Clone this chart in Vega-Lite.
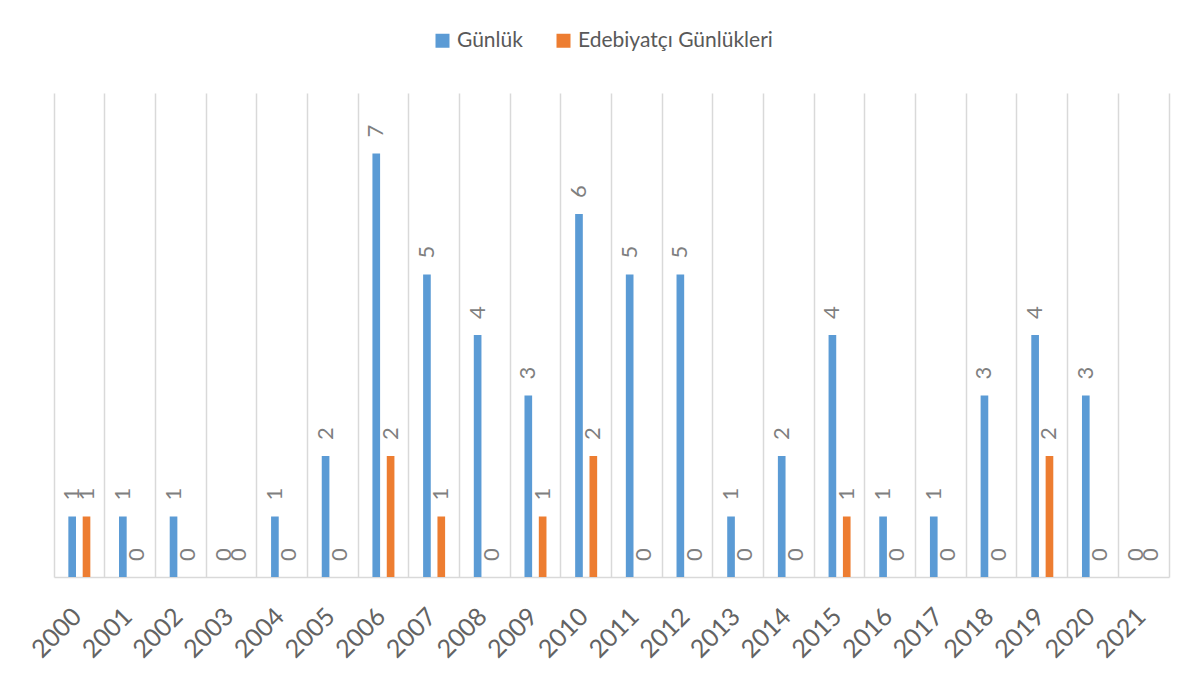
{
  "$schema": "https://vega.github.io/schema/vega-lite/v6.json",
  "width": 1115,
  "height": 484,
  "autosize": {"type": "none"},
  "padding": {"left": 54, "top": 93, "right": 28, "bottom": 105},
  "background": "white",
  "config": {"view": {"stroke": null}, "font": "Lato"},
  "data": {
    "values": [
      {"year": "2000", "series": "Günlük", "value": 1},
      {"year": "2001", "series": "Günlük", "value": 1},
      {"year": "2002", "series": "Günlük", "value": 1},
      {"year": "2003", "series": "Günlük", "value": 0},
      {"year": "2004", "series": "Günlük", "value": 1},
      {"year": "2005", "series": "Günlük", "value": 2},
      {"year": "2006", "series": "Günlük", "value": 7},
      {"year": "2007", "series": "Günlük", "value": 5},
      {"year": "2008", "series": "Günlük", "value": 4},
      {"year": "2009", "series": "Günlük", "value": 3},
      {"year": "2010", "series": "Günlük", "value": 6},
      {"year": "2011", "series": "Günlük", "value": 5},
      {"year": "2012", "series": "Günlük", "value": 5},
      {"year": "2013", "series": "Günlük", "value": 1},
      {"year": "2014", "series": "Günlük", "value": 2},
      {"year": "2015", "series": "Günlük", "value": 4},
      {"year": "2016", "series": "Günlük", "value": 1},
      {"year": "2017", "series": "Günlük", "value": 1},
      {"year": "2018", "series": "Günlük", "value": 3},
      {"year": "2019", "series": "Günlük", "value": 4},
      {"year": "2020", "series": "Günlük", "value": 3},
      {"year": "2021", "series": "Günlük", "value": 0},
      {"year": "2000", "series": "Edebiyatçı Günlükleri", "value": 1},
      {"year": "2001", "series": "Edebiyatçı Günlükleri", "value": 0},
      {"year": "2002", "series": "Edebiyatçı Günlükleri", "value": 0},
      {"year": "2003", "series": "Edebiyatçı Günlükleri", "value": 0},
      {"year": "2004", "series": "Edebiyatçı Günlükleri", "value": 0},
      {"year": "2005", "series": "Edebiyatçı Günlükleri", "value": 0},
      {"year": "2006", "series": "Edebiyatçı Günlükleri", "value": 2},
      {"year": "2007", "series": "Edebiyatçı Günlükleri", "value": 1},
      {"year": "2008", "series": "Edebiyatçı Günlükleri", "value": 0},
      {"year": "2009", "series": "Edebiyatçı Günlükleri", "value": 1},
      {"year": "2010", "series": "Edebiyatçı Günlükleri", "value": 2},
      {"year": "2011", "series": "Edebiyatçı Günlükleri", "value": 0},
      {"year": "2012", "series": "Edebiyatçı Günlükleri", "value": 0},
      {"year": "2013", "series": "Edebiyatçı Günlükleri", "value": 0},
      {"year": "2014", "series": "Edebiyatçı Günlükleri", "value": 0},
      {"year": "2015", "series": "Edebiyatçı Günlükleri", "value": 1},
      {"year": "2016", "series": "Edebiyatçı Günlükleri", "value": 0},
      {"year": "2017", "series": "Edebiyatçı Günlükleri", "value": 0},
      {"year": "2018", "series": "Edebiyatçı Günlükleri", "value": 0},
      {"year": "2019", "series": "Edebiyatçı Günlükleri", "value": 2},
      {"year": "2020", "series": "Edebiyatçı Günlükleri", "value": 0},
      {"year": "2021", "series": "Edebiyatçı Günlükleri", "value": 0}
    ]
  },
  "encoding": {
    "x": {
      "field": "year",
      "type": "nominal",
      "scale": {"paddingInner": 0, "paddingOuter": 0},
      "axis": {
        "title": null,
        "grid": true,
        "bandPosition": 0,
        "gridColor": "#d9d9d9",
        "gridWidth": 1.5,
        "ticks": false,
        "domainColor": "#d9d9d9",
        "domainWidth": 1.5,
        "labelAngle": -45,
        "labelAlign": "right",
        "labelBaseline": "middle",
        "labelFontSize": 25,
        "labelColor": "#636363",
        "labelFont": "Lato",
        "labelFontWeight": "normal",
        "labelPadding": 35,
        "labelOffset": -2
      }
    },
    "xOffset": {
      "field": "series",
      "scale": {"domain": ["Günlük", "Edebiyatçı Günlükleri"], "paddingInner": 0.466, "paddingOuter": 1.17}
    },
    "y": {
      "field": "value",
      "type": "quantitative",
      "scale": {"domain": [0, 8]},
      "axis": {
        "orient": "right",
        "title": null,
        "labels": false,
        "ticks": false,
        "grid": false,
        "domain": true,
        "domainColor": "#d9d9d9",
        "domainWidth": 1.5
      }
    }
  },
  "layer": [
    {
      "mark": {"type": "bar"},
      "encoding": {
        "color": {
          "field": "series",
          "type": "nominal",
          "scale": {"domain": ["Günlük", "Edebiyatçı Günlükleri"], "range": ["#5B9BD5", "#ED7D31"]},
          "legend": {
            "title": null,
            "orient": "none",
            "legendX": 378,
            "legendY": -63,
            "direction": "horizontal",
            "symbolType": "square",
            "symbolSize": 196,
            "symbolStrokeWidth": 0,
            "labelFontSize": 21,
            "labelColor": "#595959",
            "labelFont": "Lato",
            "labelLimit": 0,
            "columnPadding": 30,
            "labelOffset": 4
          }
        }
      }
    },
    {
      "mark": {"type": "text", "angle": 270, "align": "left", "baseline": "middle", "dx": 16, "fontSize": 22, "font": "Lato", "color": "#7f7f7f"},
      "encoding": {"text": {"field": "value", "type": "quantitative"}}
    }
  ]
}
